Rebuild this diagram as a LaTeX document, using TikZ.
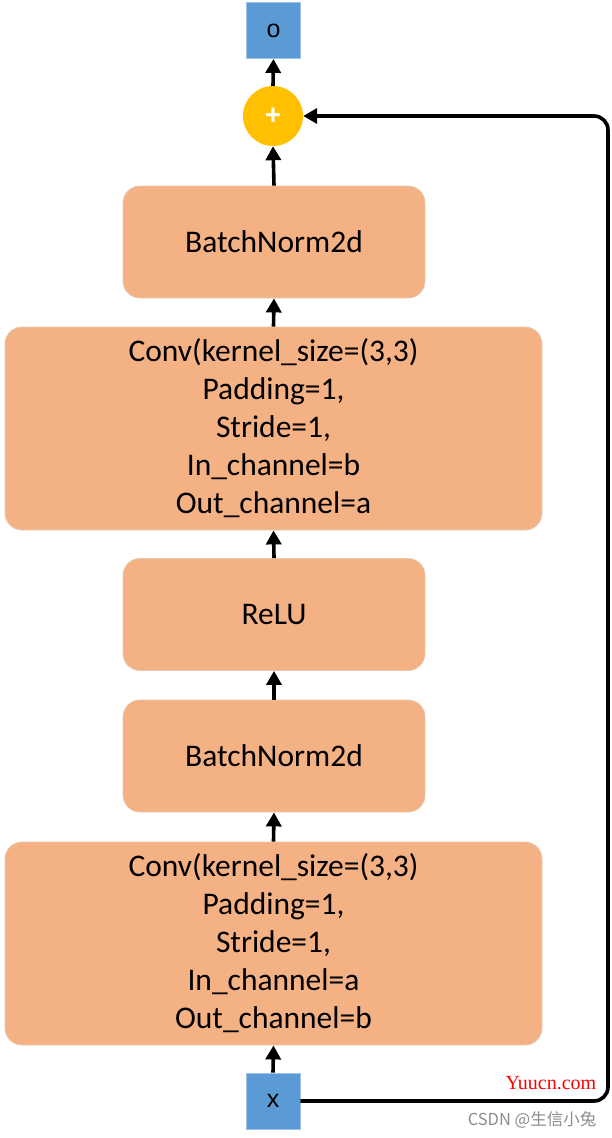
\documentclass[tikz,border=0pt]{standalone}
\usepackage{fontspec}
\setmainfont{Carlito}
\newfontfamily\arialf{Liberation Sans}
\newfontfamily\seriff{Liberation Serif}
\newfontfamily\cjkf{Noto Sans CJK SC}
\usetikzlibrary{arrows.meta}
\definecolor{boxfill}{HTML}{F4B183}
\definecolor{boxedge}{HTML}{E8C8B0}
\definecolor{bluebox}{HTML}{5B9BD5}
\definecolor{goldc}{HTML}{FFC000}
\begin{document}
\begin{tikzpicture}[x=1pt,y=-1pt,
  layer/.style={rectangle, rounded corners=17pt, fill=boxfill, draw=boxedge, line width=0.8pt,
     font=\fontsize{31.5}{38}\selectfont, align=center, inner sep=0pt},
  smallbox/.style={layer, minimum width=302pt, minimum height=112pt},
  bigbox/.style={layer, minimum width=537pt, minimum height=203pt},
  iobox/.style={rectangle, fill=bluebox, draw=bluebox!60!white, line width=0.8pt, minimum width=54pt, minimum height=56pt,
     font=\arialf\fontsize{25}{28}\selectfont, inner sep=0pt},
  arr/.style={line width=3.6pt, -{Triangle[length=14pt,width=15pt]}}
]
\useasboundingbox (0,0) rectangle (611,1138);
\node[iobox] (o) at (273.5,30.5) {o};
\node[circle, fill=goldc, minimum size=60pt, inner sep=0pt, text=white, font=\arialf\bfseries\fontsize{28}{28}\selectfont] (plus) at (273,116) {+};
\node[smallbox] (bn1) at (274,242) {BatchNorm2d};
\node[bigbox] (conv1) at (273.5,428.5) {Conv(kernel\_size=(3,3)\\Padding=1,\\Stride=1,\\In\_channel=b\\Out\_channel=a};
\node[smallbox] (relu) at (274,614.5) {ReLU};
\node[smallbox] (bn2) at (274,756) {BatchNorm2d};
\node[bigbox] (conv2) at (273.5,943.5) {Conv(kernel\_size=(3,3)\\Padding=1,\\Stride=1,\\In\_channel=a\\Out\_channel=b};
\node[iobox] (x) at (273,1101) {x};
\coordinate (c1) at (608,1101);
\coordinate (c2) at (608,116);
\draw[arr] (x.north) -- (conv2.south);
\draw[arr] (conv2.north) -- (bn2.south);
\draw[arr] (bn2.north) -- (relu.south);
\draw[arr] (relu.north) -- (conv1.south);
\draw[arr] (conv1.north) -- (bn1.south);
\draw[arr] (bn1.north) -- (plus.south);
\draw[arr] (plus.north) -- (o.south);
\draw[arr, rounded corners=14pt] (x.east) -- (c1) -- (c2) -- (plus.east);
\node[text=red, font=\seriff\fontsize{20}{22}\selectfont, inner sep=0pt] (wm1) at (551,1083) {Yuucn.com};
\node[text=black!45, font=\cjkf\fontsize{16.5}{18}\selectfont, inner sep=0pt] (wm2) at (532,1120) {CSDN @生信小兔};
\end{tikzpicture}
\end{document}
